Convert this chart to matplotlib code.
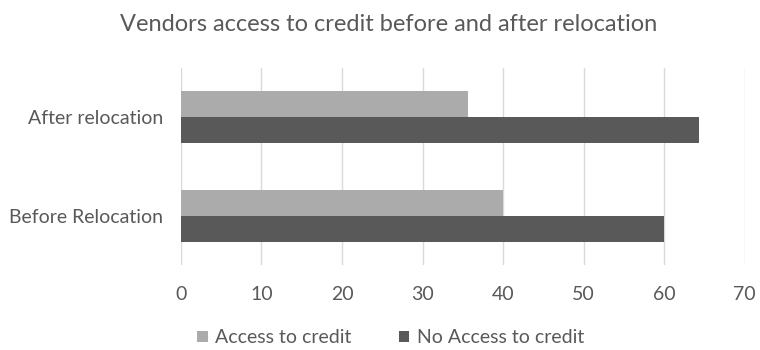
import numpy as np
import matplotlib
import matplotlib.pyplot as plt

matplotlib.use("Agg")

categories = ["Before Relocation", "After relocation"]
access = [40, 35.7]
no_access = [60, 64.3]
xticks = [0, 10, 20, 30, 40, 50, 60, 70]

plt.rcParams['font.family'] = ['Lato', 'DejaVu Sans']
text_color = "#595959"

fig = plt.figure(figsize=(7.6, 3.5), dpi=100)
ax = fig.add_axes([0.238, 0.243, 0.742, 0.563])

y = np.arange(len(categories))
h = 0.265
ax.barh(y + h / 2, access, height=h, color="#ABABAB", label="Access to credit", zorder=3)
ax.barh(y - h / 2, no_access, height=h, color="#595959", label="No Access to credit", zorder=3)

ax.set_xlim(0, 70)
ax.set_ylim(-0.5, 1.5)
ax.set_xticks(xticks)
ax.set_yticks(y)
ax.set_yticklabels(categories)
ax.tick_params(axis="both", length=0, colors=text_color, labelsize=14)
ax.tick_params(axis="x", pad=15)
ax.tick_params(axis="y", pad=13)
ax.grid(axis="x", color="#D9D9D9", linewidth=1, zorder=0)
for s in ax.spines.values():
    s.set_visible(False)

fig.text(0.511, 0.93, "Vendors access to credit before and after relocation",
         ha="center", va="center", fontsize=17, color=text_color)

fig.legend(loc="center", bbox_to_anchor=(0.514, 0.035), ncol=2, frameon=False,
           fontsize=14, handlelength=0.55, handleheight=0.55, columnspacing=2.4,
           handletextpad=0.4, labelcolor=text_color)

fig.savefig("out.png", dpi=100)
